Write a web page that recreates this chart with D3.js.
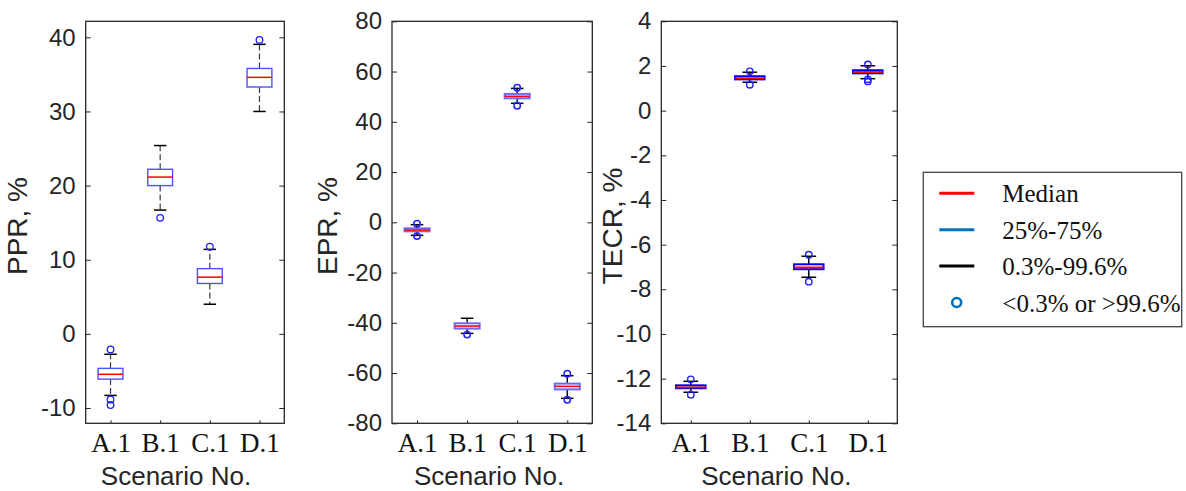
<!DOCTYPE html>
<html>
<head>
<meta charset="utf-8">
<script src="https://cdn.jsdelivr.net/npm/d3@7"></script>
<style>
  html, body { margin: 0; padding: 0; background: #fff; }
  svg { display: block; }
</style>
</head>
<body>
<svg id="chart" width="1186" height="491"></svg>
<script>
// Scenario categories shared by all three panels
const categories = ["A.1", "B.1", "C.1", "D.1"];

// PPR, % — box statistics per scenario
const pprLow     = [-8.3, 16.7, 4.0, 30.0];
const pprQ1      = [-6.1, 20.0, 6.8, 33.3];
const pprMedian  = [-5.45, 21.15, 7.65, 34.6];
const pprQ3      = [-4.65, 22.2, 8.8, 35.8];
const pprHigh    = [-2.75, 25.4, 11.4, 39.05];
const pprOutliers = [[-2.1, -8.85, -9.6], [15.65], [11.75], [39.65]];
const pprTicks   = [-10, 0, 10, 20, 30, 40];

// EPR, %
const eprLow     = [-5.2, -44.2, 47.35, -70.05];
const eprQ1      = [-3.6, -42.3, 49.35, -66.5];
const eprMedian  = [-3.07, -41.3, 50.15, -65.3];
const eprQ3      = [-2.4, -40.2, 51.1, -64.2];
const eprHigh    = [-0.95, -38.2, 53.3, -61.05];
const eprOutliers = [[-0.6, -5.5], [-44.7], [53.6, 46.4], [-60.26, -70.6]];
const eprTicks   = [-80, -60, -40, -20, 0, 20, 40, 60, 80];

// TECR, %
const tecrLow     = [-12.61, 1.27, -7.46, 1.43];
const tecrQ1      = [-12.43, 1.40, -7.10, 1.67];
const tecrMedian  = [-12.39, 1.45, -7.02, 1.73];
const tecrQ3      = [-12.30, 1.54, -6.88, 1.81];
const tecrHigh    = [-12.12, 1.72, -6.52, 2.01];
const tecrOutliers = [[-12.03, -12.72], [1.76, 1.16], [-6.45, -7.66], [2.07, 1.40, 1.31]];
const tecrTicks   = [-14, -12, -10, -8, -6, -4, -2, 0, 2, 4];

// Legend entries
const legendLabels = ["Median", "25%-75%", "0.3%-99.6%", "<0.3% or >99.6%"];

const panels = [
  { title: "PPR, %", low: pprLow, q1: pprQ1, med: pprMedian, q3: pprQ3, high: pprHigh,
    out: pprOutliers, ticks: pprTicks, domain: [-12.06, 42.16],
    x0: 85.7, x1: 284.3, titleX: 27, xTitleShift: -9,
    style: { box: "#5050ff", boxW: 1.4, med: 1.5, whisker: "#3a3a3a", dash: "6,3", wW: 1.2, r: 3.3, outW: 1.3 } },
  { title: "EPR, %", low: eprLow, q1: eprQ1, med: eprMedian, q3: eprQ3, high: eprHigh,
    out: eprOutliers, ticks: eprTicks, domain: [-80, 80],
    x0: 392, x1: 592.3, titleX: 337, xTitleShift: -3,
    style: { box: "#6a6aff", boxW: 2, med: 1.6, whisker: "#000", dash: null, wW: 1.4, r: 3.2, outW: 1.5 } },
  { title: "TECR, %", low: tecrLow, q1: tecrQ1, med: tecrMedian, q3: tecrQ3, high: tecrHigh,
    out: tecrOutliers, ticks: tecrTicks, domain: [-14, 4],
    x0: 661.3, x1: 897.3, titleX: 622, xTitleShift: -3,
    style: { box: "#0000ff", boxW: 2, med: 1.8, whisker: "#000", dash: null, wW: 1.5, r: 3.2, outW: 1.4 } }
];

const plotTop = 21.3, plotBottom = 423.3;
const ink = "#262626";
const sans = "'Liberation Sans', Arial, sans-serif";
const serif = "'Liberation Serif', 'Times New Roman', serif";
const plainNumber = d => String(d);   // hyphen-minus, as in the axis labels

const svg = d3.select("#chart");

panels.forEach(p => {
  const x = d3.scalePoint().domain(categories).range([p.x0, p.x1]).padding(0.5);
  const y = d3.scaleLinear().domain(p.domain).range([plotBottom, plotTop]);
  const step = x.step();
  const boxW = step * 0.5, capW = step * 0.25;
  const g = svg.append("g");
  const s = p.style;

  // left axis with labels, ticks pointing inward
  const left = g.append("g").attr("transform", `translate(${p.x0},0)`)
    .call(d3.axisLeft(y).tickValues(p.ticks).tickFormat(plainNumber).tickSize(-5).tickPadding(10));
  // mirrored ticks on the right side
  const right = g.append("g").attr("transform", `translate(${p.x1},0)`)
    .call(d3.axisRight(y).tickValues(p.ticks).tickSize(-5).tickFormat(""));
  // category axis
  const bot = g.append("g").attr("transform", `translate(0,${plotBottom})`)
    .call(d3.axisBottom(x).tickSize(-3));

  [left, right, bot].forEach(a => {
    a.select(".domain").remove();
    a.selectAll(".tick line").attr("stroke", ink).attr("stroke-width", 1);
  });
  left.selectAll("text").attr("font-family", sans).attr("font-size", 24).attr("fill", ink);
  bot.selectAll("text").attr("font-family", serif).attr("font-size", 27).attr("fill", "#111")
    .attr("y", 29).attr("dy", 0);

  // frame
  g.append("rect").attr("x", p.x0).attr("y", plotTop)
    .attr("width", p.x1 - p.x0).attr("height", plotBottom - plotTop)
    .attr("fill", "none").attr("stroke", ink).attr("stroke-width", 1.3);

  // y-axis title
  g.append("text")
    .attr("transform", `translate(${p.titleX},226) rotate(-90)`)
    .attr("text-anchor", "middle")
    .attr("font-family", sans).attr("font-size", 28).attr("fill", ink)
    .text(p.title);

  // x-axis title
  g.append("text")
    .attr("x", (p.x0 + p.x1) / 2 + p.xTitleShift).attr("y", 485)
    .attr("text-anchor", "middle")
    .attr("font-family", sans).attr("font-size", 26).attr("fill", ink)
    .text("Scenario No.");

  categories.forEach((c, i) => {
    const cx = x(c);
    const bg = g.append("g");
    // whiskers
    [[p.q3[i], p.high[i]], [p.q1[i], p.low[i]]].forEach(([a, b]) => {
      bg.append("line").attr("x1", cx).attr("x2", cx).attr("y1", y(a)).attr("y2", y(b))
        .attr("stroke", s.whisker).attr("stroke-width", s.wW)
        .attr("stroke-dasharray", s.dash);
    });
    // whisker caps
    [p.high[i], p.low[i]].forEach(v => {
      bg.append("line").attr("x1", cx - capW / 2).attr("x2", cx + capW / 2)
        .attr("y1", y(v)).attr("y2", y(v))
        .attr("stroke", "#000").attr("stroke-width", 1.5);
    });
    // interquartile box
    bg.append("rect").attr("x", cx - boxW / 2).attr("y", y(p.q3[i]))
      .attr("width", boxW).attr("height", Math.max(0, y(p.q1[i]) - y(p.q3[i])))
      .attr("fill", "#fff").attr("stroke", s.box).attr("stroke-width", s.boxW);
    // median
    bg.append("line").attr("x1", cx - boxW / 2).attr("x2", cx + boxW / 2)
      .attr("y1", y(p.med[i])).attr("y2", y(p.med[i]))
      .attr("stroke", "#ff0000").attr("stroke-width", s.med);
    // outliers
    p.out[i].forEach(v => {
      bg.append("circle").attr("cx", cx).attr("cy", y(v)).attr("r", s.r)
        .attr("fill", "none").attr("stroke", "#2020ff").attr("stroke-width", s.outW);
    });
  });
});

// legend
const lg = svg.append("g");
lg.append("rect").attr("x", 923.3).attr("y", 172.3).attr("width", 258.4).attr("height", 154.4)
  .attr("fill", "#fff").attr("stroke", "#444").attr("stroke-width", 1.3);
const legendColors = ["#ff0000", "#0072bd", "#000000", "#0072bd"];
legendLabels.forEach((label, i) => {
  const ly = 193.3 + i * 36.4;
  if (i < 3) {
    lg.append("line").attr("x1", 939.3).attr("x2", 974.3).attr("y1", ly).attr("y2", ly)
      .attr("stroke", legendColors[i]).attr("stroke-width", 3);
  } else {
    lg.append("circle").attr("cx", 956.7).attr("cy", ly).attr("r", 4.5)
      .attr("fill", "none").attr("stroke", legendColors[i]).attr("stroke-width", 2.6);
  }
  lg.append("text").attr("x", 1002.3).attr("y", ly + 9)
    .attr("font-family", serif).attr("font-size", 25).attr("fill", "#111")
    .text(label);
});
</script>
</body>
</html>
